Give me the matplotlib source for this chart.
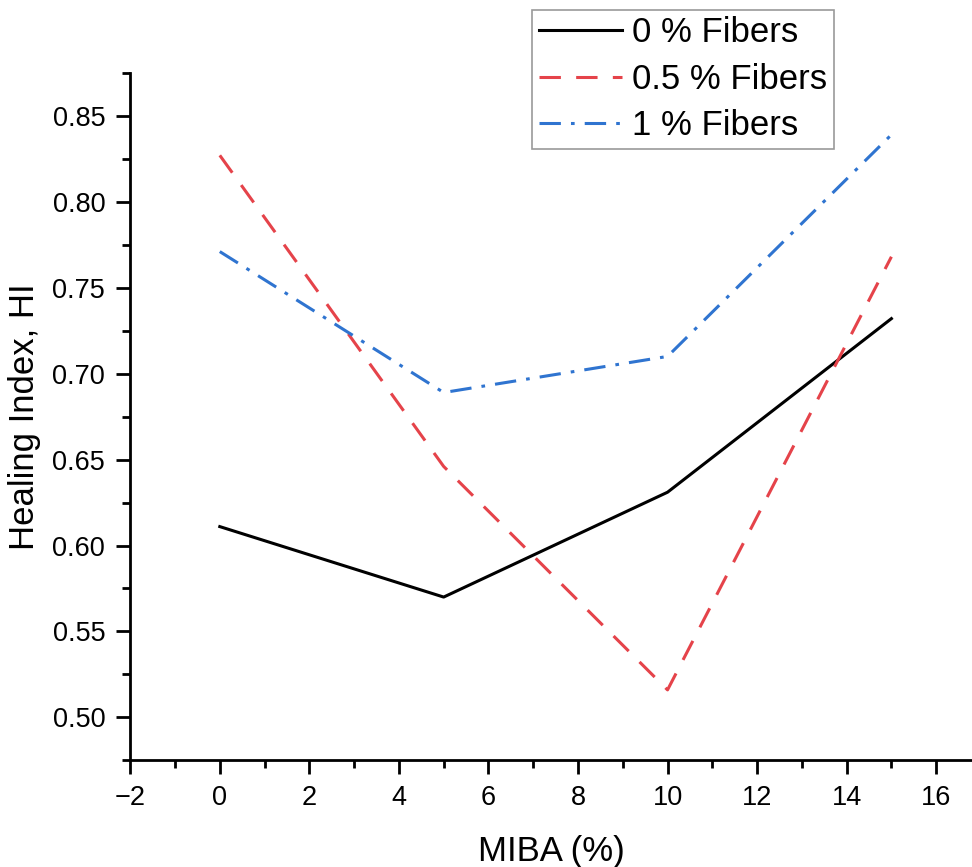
import numpy as np
import matplotlib.pyplot as plt
from matplotlib.ticker import MultipleLocator
plt.rcParams.update({'font.family': 'Liberation Sans', 'font.size': 19})

miba = [0, 5, 10, 15]
hi_0 = [0.611, 0.570, 0.631, 0.732]
hi_05 = [0.827, 0.646, 0.516, 0.768]
hi_1 = [0.771, 0.689, 0.710, 0.839]
labels = ['0 % Fibers', '0.5 % Fibers', '1 % Fibers']

fig = plt.figure(figsize=(9.72, 8.67), dpi=100)
ax = fig.add_axes([0.134, 0.123, 0.866, 0.793])

ax.plot(miba, hi_0, color='black', lw=2.2, label=labels[0])
ax.plot(miba, hi_05, color='#e5434a', lw=2.2, ls=(0, (7, 5)), label=labels[1])
ax.plot(miba, hi_1, color='#2f74d0', lw=2.2, ls=(0, (7, 3.3, 1.2, 3.3)), label=labels[2])

ax.set_xlim(-2, 16.8)
ax.set_ylim(0.475, 0.875)
ax.xaxis.set_major_locator(MultipleLocator(2))
ax.xaxis.set_minor_locator(MultipleLocator(1))
ax.yaxis.set_major_locator(MultipleLocator(0.05))
ax.yaxis.set_minor_locator(MultipleLocator(0.025))
ax.yaxis.set_major_formatter(lambda v, p: f'{v:.2f}')
ax.tick_params(which='major', direction='out', length=10, width=2, pad=8, labelsize=19.5)
ax.tick_params(which='minor', direction='out', length=6, width=2)
for s in ['top', 'right']:
    ax.spines[s].set_visible(False)
for s in ['left', 'bottom']:
    ax.spines[s].set_linewidth(2)

ax.set_xlabel('MIBA (%)', fontsize=25, labelpad=17)
ax.set_ylabel('Healing Index, HI', fontsize=25, labelpad=8)

leg = fig.legend(loc='upper left', bbox_to_anchor=(0.547, 0.989), fontsize=25,
                 frameon=True, fancybox=False, edgecolor='#808080',
                 handlelength=2.4, handletextpad=0.3, borderpad=0.2, labelspacing=0.38,
                 borderaxespad=0)
leg.get_frame().set_linewidth(1.2)

plt.savefig('out.png', dpi=100, facecolor='white')
